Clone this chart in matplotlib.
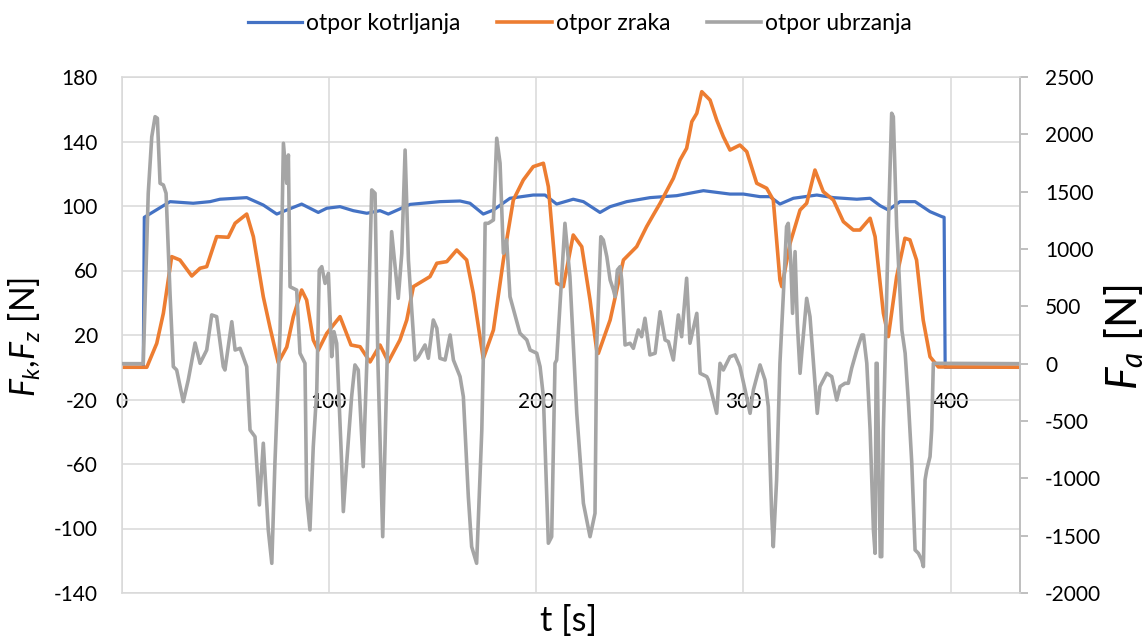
import matplotlib
matplotlib.use("Agg")
import matplotlib.pyplot as plt

plt.rcParams['font.family'] = ['Lato', 'DejaVu Sans']
plt.rcParams['mathtext.fontset'] = 'custom'
plt.rcParams['mathtext.rm'] = 'Lato'
plt.rcParams['mathtext.it'] = 'Lato:italic'
plt.rcParams['axes.unicode_minus'] = False

# ---- data ----
series_names = ["otpor kotrljanja", "otpor zraka", "otpor ubrzanja"]

# otpor kotrljanja (left axis, N)
t_kotrljanja = [0, 10.5, 11.0, 23.4, 34.6, 42.7, 47.5, 60.4, 68.4, 74.9, 79.7, 86.9, 94.9,
                99.0, 105.4, 111.8, 118.3, 124.7, 128.7, 139.2, 153.6, 163.3, 168.1, 174.5,
                179.4, 187.4, 198.6, 204.3, 209.9, 217.9, 222.8, 230.8, 235.7, 243.7, 255.0,
                267.8, 280.7, 293.5, 300.0, 308.0, 312.8, 317.6, 324.1, 335.4, 343.4, 354.7,
                361.1, 365.9, 369.9, 375.5, 382.8, 390.0, 395.7, 396.8, 397.3, 433.4]
f_kotrljanja = [0, 0, 93.0, 102.7, 101.7, 102.7, 104.2, 105.2, 100.6, 95.0, 97.5, 101.2, 96.0,
                98.6, 99.6, 97.1, 95.5, 97.1, 95.0, 101.0, 102.7, 103.1, 101.7, 95.0,
                97.5, 104.8, 106.8, 106.8, 101.2, 104.2, 102.7, 96.0, 99.6, 102.7, 105.2,
                106.4, 109.5, 107.4, 107.4, 105.8, 105.8, 101.2, 104.8, 106.8, 105.2, 104.2,
                104.8, 100.2, 97.5, 102.7, 102.7, 96.5, 93.4, 93.0, 0, 0]

# otpor zraka (left axis, N)
t_zraka = [0, 12.2, 17.0, 20.2, 24.2, 28.2, 33.9, 37.9, 41.1, 45.9, 51.5, 54.8, 60.4, 63.6,
           68.4, 71.6, 75.6, 79.7, 82.9, 86.9, 89.3, 92.5, 94.9, 99.0, 105.4, 110.7, 115.1,
           119.9, 124.7, 128.7, 134.3, 137.6, 140.8, 148.8, 152.1, 156.9, 161.7, 166.5, 169.7,
           174.5, 179.4, 184.2, 189.0, 193.8, 198.6, 203.5, 205.9, 209.9, 213.1, 217.9, 222.0,
           226.0, 229.2, 230.0, 235.7, 242.1, 248.5, 253.3, 256.5, 259.8, 266.2, 269.4, 272.6,
           275.1, 277.5, 279.9, 283.9, 287.1, 290.3, 293.5, 298.3, 301.6, 306.4, 311.2, 314.4,
           317.6, 318.5, 322.5, 327.3, 330.5, 334.5, 338.5, 343.4, 348.2, 353.0, 356.2, 361.1,
           363.5, 367.5, 369.9, 373.9, 377.9, 380.3, 383.5, 386.7, 390.0, 394.0, 433.4]
f_zraka = [0, 0, 14.8, 33.5, 68.6, 66.5, 56.6, 61.4, 62.4, 81.0, 80.6, 89.3, 95.0, 81.0,
           43.7, 24.9, 2.8, 12.5, 31.4, 47.9, 41.7, 16.9, 10.5, 21.0, 31.4, 13.8, 12.7,
           3.3, 13.8, 3.3, 16.9, 29.3, 50.0, 56.2, 64.5, 65.5, 72.7, 66.5, 45.9,
           5.4, 23.1, 66.5, 103.7, 116.1, 124.4, 126.5, 112.0, 52.1, 50.0, 82.0, 74.8,
           41.7, 10.7, 8.6, 29.3, 66.5, 74.8, 87.2, 94.4, 101.7, 117.2, 128.5, 135.8,
           152.3, 157.5, 170.9, 165.7, 153.3, 143.0, 134.7, 137.8, 133.7, 114.1, 111.0, 103.7,
           54.1, 50.0, 76.9, 97.5, 101.7, 122.3, 108.9, 103.7, 90.3, 85.1, 85.1, 92.4,
           81.0, 33.5, 19.0, 56.2, 80.0, 79.0, 66.5, 29.3, 6.5, 0.2, 0]

# otpor ubrzanja (right axis, N)
t_ubrzanja = [0, 10.5, 12.9, 14.6, 16.2, 17.3, 18.6, 20.2, 21.5, 23.4, 25.0, 26.6, 29.8, 32.2,
              35.5, 37.9, 41.1, 43.5, 45.9, 49.1, 49.9, 53.2, 54.8, 57.2, 60.4, 62.0, 64.4,
              66.5, 68.4, 70.8, 72.5, 74.0, 76.5, 78.1, 79.7, 80.5, 81.3, 84.5, 86.1, 88.5,
              89.3, 90.9, 92.5, 94.2, 95.4, 96.6, 98.2, 99.8, 101.4, 102.5, 103.8, 106.2,
              107.0, 108.6, 111.0, 112.6, 114.2, 116.6, 118.9, 120.7, 122.3, 123.7, 126.0,
              128.1, 130.3, 133.5, 135.2, 136.8, 138.4, 141.6, 143.2, 146.4, 148.0, 150.4,
              152.1, 153.6, 156.1, 158.5, 160.1, 163.3, 164.9, 167.3, 168.9, 171.3, 173.8,
              174.5, 175.4, 176.9, 179.4, 181.0, 182.6, 184.2, 185.8, 187.4, 192.2, 195.5,
              197.1, 200.3, 201.9, 203.5, 205.9, 207.5, 209.1, 209.9, 213.9, 216.3, 219.6,
              222.8, 226.0, 228.4, 229.2, 231.2, 232.4, 234.1, 235.7, 237.3, 238.1, 239.2,
              240.5, 241.3, 242.9, 245.3, 246.9, 249.3, 250.9, 252.5, 254.9, 257.4, 259.8,
              262.2, 263.8, 266.2, 268.6, 270.2, 272.6, 274.2, 277.5, 279.1, 282.3, 283.1,
              287.1, 288.7, 290.3, 291.9, 293.5, 295.9, 298.3, 300.8, 303.2, 304.8, 308.0,
              310.4, 312.0, 313.6, 314.4, 316.0, 317.6, 319.2, 320.8, 321.6, 322.8, 323.7,
              324.9, 326.0, 327.3, 328.4, 330.5, 332.1, 335.6, 336.9, 340.2, 342.6, 345.0,
              346.6, 349.0, 350.6, 352.2, 354.7, 357.1, 357.9, 359.5, 361.1, 362.7, 363.5,
              364.0, 364.5, 366.0, 366.7, 367.5, 369.1, 369.9, 371.5, 372.3, 373.9, 376.4,
              378.0, 379.6, 381.2, 382.8, 384.4, 386.0, 386.8, 387.6, 388.4, 390.0, 390.8,
              391.6, 433.4]
f_ubrzanja = [0, 0, 1486, 1979, 2154, 2140, 1573, 1558, 1486, 614, -26, -55, -331, -142,
              180, 3, 119, 425, 410, -26, -55, 366, 119, 134, -26, -578, -637,
              -1232, -694, -1450, -1741, -869, 294, 1922, 1573, 1820, 671, 642, 91, 3,
              -1160, -1450, -724, -229, 817, 846, 700, 788, 61, 279, 178, -869,
              -1290, -869, -288, -11, -55, -898, 300, 1515, 1486, 0, -1509,
              0, 1151, 570, 963, 1863, 904, 32, 61, 163, 47, 381,
              309, 47, 32, 250, 32, -113, -288, -1160, -1596, -1741, -578,
              32, 1224, 1224, 1253, 1966, 1748, 963, 1079, 584, 265, 207,
              119, 91, -26, -288, -1566, -1509, 3, 32, 1224, 759, -433,
              -1217, -1509, -1305, 148, 1107, 1079, 933, 730, 643, 584, 817,
              846, 730, 163, 178, 134, 294, 235, 396, 76, 91, 453,
              207, 192, 32, 425, 235, 745, 178, 439, -84, -113, -142,
              -433, 3, -55, 3, 61, 76, -26, -229, -433, -229, -11,
              -142, -375, -1305, -1596, -1014, 3, 584, 1195, 1224, 904, 439,
              977, 352, -84, 148, 570, 410, -433, -200, -84, -113, -317,
              -200, -171, -171, -40, 119, 250, 250, 3, -578, -1451, -1654,
              3, 3, -1683, -1683, -578, 614, 1195, 2184, 2154, 1195, 294,
              91, -346, -869, -1625, -1654, -1712, -1770, -1014, -927, -811, -578,
              3, 0]

left_ticks = list(range(-140, 181, 40))
right_ticks = list(range(-2000, 2501, 500))
x_ticks = [0, 100, 200, 300, 400]

colors = ["#4472C4", "#ED7D31", "#A5A5A5"]
grid_color = "#D9D9D9"

W, H = 1148, 640

# ---- figure ----
fig = plt.figure(figsize=(W / 100, H / 100), dpi=100)
ax = fig.add_axes([121.5 / W, 1 - 593 / H, 898.5 / W, 516 / H])
ax2 = ax.twinx()

l1, = ax.plot(t_kotrljanja, f_kotrljanja, color=colors[0], lw=2.3, label=series_names[0])
l2, = ax.plot(t_zraka, f_zraka, color=colors[1], lw=2.6, label=series_names[1])
l3, = ax2.plot(t_ubrzanja, f_ubrzanja, color=colors[2], lw=2.6, label=series_names[2])

ax.set_xlim(0, 433.4)
ax.set_ylim(-140, 180)
ax.set_yticks(left_ticks)
ax.set_xticks(x_ticks)
ax.grid(True, color=grid_color, lw=1.1)
ax.set_axisbelow(True)

# x labels sit next to the zero line, like Excel does
ax.spines['bottom'].set_position(('data', 0))
ax.spines['bottom'].set_visible(False)
ax.spines['right'].set_visible(False)
ax.spines['top'].set_visible(False)
ax.spines['left'].set_color(grid_color)
ax.spines['left'].set_linewidth(1.1)
ax.tick_params(axis='x', length=0, pad=18, labelsize=15)
ax.tick_params(axis='y', length=0, pad=17, labelsize=15)

ax2.set_ylim(-2000, 2500)
ax2.set_yticks(right_ticks)
ax2.spines['left'].set_visible(False)
for s in ['top', 'bottom']:
    ax2.spines[s].set_color(grid_color)
    ax2.spines[s].set_linewidth(1.1)
ax2.spines['right'].set_color("#BFBFBF")
ax2.spines['right'].set_linewidth(1.4)
ax2.tick_params(axis='y', direction='out', length=6, width=1.4, color="#BFBFBF",
                pad=12, labelsize=15)

# axis titles
ylab_left = fig.text(25 / W, 1 - 336.5 / H, r'$F_k$,$F_z$ [N]', rotation=90,
                     ha='center', va='center', fontsize=22)
ylab_right = fig.text(1146 / W, 1 - 336.5 / H, r'$F_a$ [N]', rotation=90,
                      ha='right', va='center', fontsize=24)
xlab = fig.text(569 / W, 1 - 621 / H, 't [s]', ha='center', va='center', fontsize=24)


def fit_length(txt, target_px, vertical):
    # scale the font so the text spans about as many pixels as in the reference
    for _ in range(3):
        fig.canvas.draw()
        bb = txt.get_window_extent()
        cur = bb.height if vertical else bb.width
        txt.set_fontsize(txt.get_fontsize() * target_px / cur)


fit_length(ylab_left, 120, True)
fit_length(ylab_right, 106, True)
fit_length(xlab, 57, False)

fig.legend(handles=[l1, l2, l3], loc='center', bbox_to_anchor=(580 / W, 1 - 24 / H),
           ncol=3, frameon=False, fontsize=16.5, handlelength=2.36, handletextpad=0.18,
           columnspacing=1.6)

fig.savefig("out.png", dpi=100)
